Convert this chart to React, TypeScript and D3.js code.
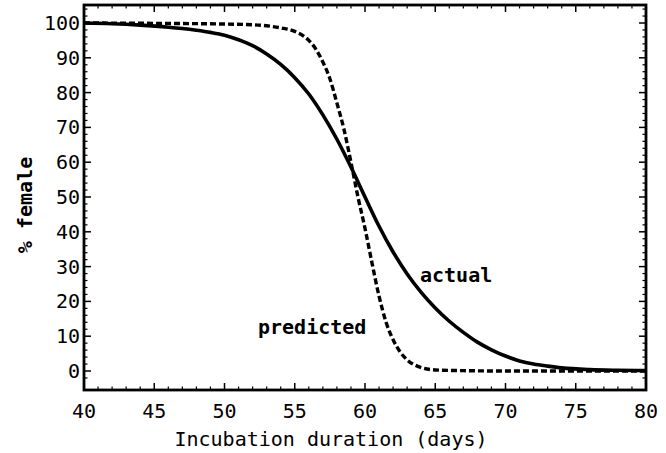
import React from "react";
import * as d3 from "d3";

const actualDays = [40, 42, 44, 46, 47, 48, 49, 50, 51, 52, 53, 54, 55, 56, 57, 58, 59, 60, 61, 62, 63, 64, 65, 66, 67, 68, 69, 70, 71, 72, 73, 74, 76, 78, 80];
const actualPct = [100, 99.8, 99.4, 98.8, 98.4, 97.9, 97.3, 96.5, 95.2, 93.5, 91.1, 88.1, 84.3, 79.6, 73.6, 66.6, 58.6, 50, 41.6, 34.2, 27.9, 22.6, 18.1, 14.3, 11.1, 8.3, 6.1, 4.3, 2.9, 2, 1.4, 0.9, 0.4, 0.2, 0.1];

const predictedDays = [40, 45, 50, 52, 53, 54, 55, 56, 56.5, 57, 57.5, 58, 58.5, 59, 59.5, 60, 60.5, 61, 61.5, 62, 62.5, 63, 64, 65, 67, 70, 80];
const predictedPct = [100, 99.9, 99.7, 99.5, 99.2, 98.6, 97.6, 95, 92.5, 88.8, 84, 77, 69.5, 60, 50, 41, 31, 21.5, 14, 9, 5.5, 3.2, 1, 0.3, 0.1, 0, 0];

const xTicks = [40, 45, 50, 55, 60, 65, 70, 75, 80];
const yTicks = [0, 10, 20, 30, 40, 50, 60, 70, 80, 90, 100];

const W = 666;
const H = 453;
const FONT = "'DejaVu Sans Mono', monospace";

export default function App() {
  const left = 84, right = 646, top = 5, bottom = 390;
  const x = d3.scaleLinear().domain([40, 80]).range([left, right]);
  const y = d3.scaleLinear().domain([0, 100]).range([371, 23]);

  const line = d3
    .line<[number, number]>()
    .x((d) => x(d[0]))
    .y((d) => y(d[1]))
    .curve(d3.curveMonotoneX);

  const actual = actualDays.map((d, i) => [d, actualPct[i]] as [number, number]);
  const predicted = predictedDays.map((d, i) => [d, predictedPct[i]] as [number, number]);

  const xMinor = d3.range(40, 81, 1).filter((v) => v % 5 !== 0);
  const yMinor = d3.range(-2, 106, 2).filter((v) => v % 10 !== 0 && y(v) > top && y(v) < bottom);

  return (
    <svg width={W} height={H} style={{ position: "absolute", left: 0, top: 0, background: "#fff" }}>
      <rect x={0} y={0} width={W} height={H} fill="#fff" />
      {/* curves */}
      <path d={line(actual) || ""} fill="none" stroke="#000" strokeWidth={3.6} />
      <path d={line(predicted) || ""} fill="none" stroke="#000" strokeWidth={3.4} strokeDasharray="6,3" />
      {/* frame */}
      <rect x={left} y={top} width={right - left} height={bottom - top} fill="none" stroke="#000" strokeWidth={2.8} />
      {/* x ticks */}
      {xTicks.map((t) => (
        <g key={"xt" + t}>
          <line x1={x(t)} x2={x(t)} y1={bottom} y2={bottom - 7} stroke="#000" strokeWidth={1.5} />
          <line x1={x(t)} x2={x(t)} y1={top} y2={top + 7} stroke="#000" strokeWidth={1.5} />
          <text x={x(t)} y={418} textAnchor="middle" fontFamily={FONT} fontSize={20} fill="#000">
            {t}
          </text>
        </g>
      ))}
      {xMinor.map((t) => (
        <g key={"xm" + t}>
          <line x1={x(t)} x2={x(t)} y1={bottom} y2={bottom - 3.5} stroke="#000" strokeWidth={1.2} />
          <line x1={x(t)} x2={x(t)} y1={top} y2={top + 3.5} stroke="#000" strokeWidth={1.2} />
        </g>
      ))}
      {/* y ticks */}
      {yTicks.map((t) => (
        <g key={"yt" + t}>
          <line x1={left} x2={left + 7} y1={y(t)} y2={y(t)} stroke="#000" strokeWidth={1.5} />
          <line x1={right} x2={right - 7} y1={y(t)} y2={y(t)} stroke="#000" strokeWidth={1.5} />
          <text x={80} y={y(t) + 7} textAnchor="end" fontFamily={FONT} fontSize={20} fill="#000">
            {t}
          </text>
        </g>
      ))}
      {yMinor.map((t) => (
        <g key={"ym" + t}>
          <line x1={left} x2={left + 3.5} y1={y(t)} y2={y(t)} stroke="#000" strokeWidth={1.2} />
          <line x1={right} x2={right - 3.5} y1={y(t)} y2={y(t)} stroke="#000" strokeWidth={1.2} />
        </g>
      ))}
      {/* annotations */}
      <text x={420} y={282} fontFamily={FONT} fontSize={20} fontWeight="bold" fill="#000">
        actual
      </text>
      <text x={258} y={334} fontFamily={FONT} fontSize={20} fontWeight="bold" fill="#000">
        predicted
      </text>
      {/* axis labels */}
      <text x={331} y={446} textAnchor="middle" fontFamily={FONT} fontSize={20} fill="#000">
        Incubation duration (days)
      </text>
      <text
        transform={`translate(32,205) rotate(-90)`}
        textAnchor="middle"
        fontFamily={FONT}
        fontSize={20}
        fontWeight="bold"
        fill="#000"
      >
        % female
      </text>
    </svg>
  );
}
